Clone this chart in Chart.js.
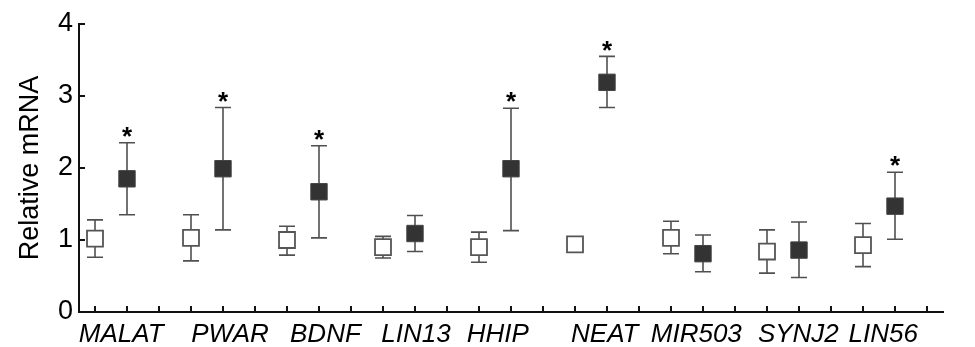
<!DOCTYPE html>
<html>
<head>
<meta charset="utf-8">
<script src="https://cdn.jsdelivr.net/npm/chart.js@4.4.0/dist/chart.umd.min.js"></script>
<style>
    body { margin: 0; background: #fff; }
</style>
</head>
<body>
<canvas id="chart" width="975" height="347"></canvas>
<script>
const genes = ['MALAT', 'PWAR', 'BDNF', 'LIN13', 'HHIP', 'NEAT', 'MIR503', 'SYNJ2', 'LIN56'];
const controlMean  = [1.02, 1.03, 1.00, 0.90, 0.90, 0.94, 1.03, 0.84, 0.93];
const controlUpper = [1.28, 1.35, 1.19, 1.05, 1.11, 0.94, 1.26, 1.14, 1.23];
const controlLower = [0.76, 0.71, 0.79, 0.75, 0.69, 0.94, 0.81, 0.54, 0.63];
const treatedMean  = [1.85, 1.99, 1.67, 1.09, 1.99, 3.19, 0.81, 0.86, 1.47];
const treatedUpper = [2.35, 2.84, 2.31, 1.34, 2.83, 3.55, 1.07, 1.25, 1.94];
const treatedLower = [1.35, 1.14, 1.03, 0.84, 1.13, 2.84, 0.56, 0.48, 1.01];
const significant  = [true, true, true, false, true, true, false, false, true];
const yTicks = [0, 1, 2, 3, 4];

// each gene takes 3 slots on the x axis: control, treated, gap
const controlPoints = genes.map((g, i) => ({ x: i * 3, y: controlMean[i], hi: controlUpper[i], lo: controlLower[i] }));
const treatedPoints = genes.map((g, i) => ({ x: i * 3 + 1, y: treatedMean[i], hi: treatedUpper[i], lo: treatedLower[i], star: significant[i] }));
const slotCount = genes.length * 3 - 1;

// where the gene names sit along the axis in the original figure (not centred on the pairs)
const labelSlots = [0.82, 4.22, 7.2, 10.03, 12.59, 15.93, 18.79, 21.98, 24.63];

const errorBars = {
    id: 'errorBars',
    beforeDatasetsDraw(chart) {
        const ctx = chart.ctx;
        const xs = chart.scales.x, ys = chart.scales.y;
        const half = 8;
        ctx.save();
        ctx.strokeStyle = '#505050';
        ctx.lineWidth = 1.6;
        [controlPoints, treatedPoints].forEach(points => {
            points.forEach(p => {
                const px = xs.getPixelForValue(p.x);
                const top = ys.getPixelForValue(p.hi);
                const bot = ys.getPixelForValue(p.lo);
                if (Math.abs(bot - top) < 1) return;
                ctx.beginPath();
                ctx.moveTo(px, top); ctx.lineTo(px, bot);
                ctx.moveTo(px - half, top); ctx.lineTo(px + half, top);
                ctx.moveTo(px - half, bot); ctx.lineTo(px + half, bot);
                ctx.stroke();
            });
        });
        ctx.restore();
    },
    afterDraw(chart) {
        const ctx = chart.ctx;
        const xs = chart.scales.x, ys = chart.scales.y;
        const area = chart.chartArea;
        ctx.save();
        // inward tick marks
        ctx.strokeStyle = '#111';
        ctx.lineWidth = 2;
        ctx.beginPath();
        for (let i = 0; i <= slotCount; i++) {
            const px = xs.getPixelForValue(i);
            ctx.moveTo(px, area.bottom); ctx.lineTo(px, area.bottom - 6);
        }
        yTicks.forEach(v => {
            const py = ys.getPixelForValue(v);
            ctx.moveTo(area.left, py); ctx.lineTo(area.left + 6, py);
        });
        ctx.stroke();
        // significance stars
        ctx.fillStyle = '#000';
        ctx.font = 'bold 26px "Liberation Sans", Arial, sans-serif';
        ctx.textAlign = 'center';
        ctx.textBaseline = 'middle';
        treatedPoints.forEach(p => {
            if (!p.star) return;
            ctx.fillText('*', xs.getPixelForValue(p.x), ys.getPixelForValue(p.hi) - 5);
        });
        ctx.restore();
    }
};

const ctx = document.getElementById('chart').getContext('2d');

new Chart(ctx, {
    type: 'scatter',
    data: {
        datasets: [{
            label: 'Control',
            data: controlPoints,
            pointStyle: 'rect',
            pointRadius: 11.3,
            backgroundColor: '#ffffff',
            borderColor: '#555555',
            borderWidth: 1.8
        }, {
            label: 'Treated',
            data: treatedPoints,
            pointStyle: 'rect',
            pointRadius: 11.6,
            backgroundColor: '#333333',
            borderColor: '#444444',
            borderWidth: 1
        }]
    },
    options: {
        responsive: false,
        animation: false,
        devicePixelRatio: 1,
        events: [],
        layout: {
            padding: { top: 24, right: 32, left: 0, bottom: 0 }
        },
        scales: {
            x: {
                type: 'linear',
                min: -0.5,
                max: slotCount + 0.5,
                grid: { display: false, drawTicks: false },
                border: { display: true, color: '#111', width: 2 },
                afterBuildTicks: scale => {
                    scale.ticks = labelSlots.map(v => ({ value: v }));
                },
                afterFit: scale => { scale.height = 35; },
                ticks: {
                    color: '#000',
                    padding: 7,
                    maxRotation: 0,
                    autoSkip: false,
                    font: { family: '"Liberation Sans", Arial, sans-serif', size: 26, style: 'italic' },
                    callback: (value, index) => genes[index]
                }
            },
            y: {
                min: 0,
                max: 4,
                grid: { display: false, drawTicks: false },
                border: { display: true, color: '#111', width: 2 },
                afterFit: scale => { scale.width = 79; },
                ticks: {
                    stepSize: 1,
                    color: '#000',
                    padding: 6,
                    font: { family: '"Liberation Sans", Arial, sans-serif', size: 27 }
                },
                title: {
                    display: true,
                    text: 'Relative mRNA',
                    color: '#000',
                    padding: { top: 14, bottom: 0 },
                    font: { family: '"Liberation Sans", Arial, sans-serif', size: 27 }
                }
            }
        },
        plugins: {
            legend: { display: false },
            tooltip: { enabled: false }
        }
    },
    plugins: [errorBars]
});
</script>
</body>
</html>
